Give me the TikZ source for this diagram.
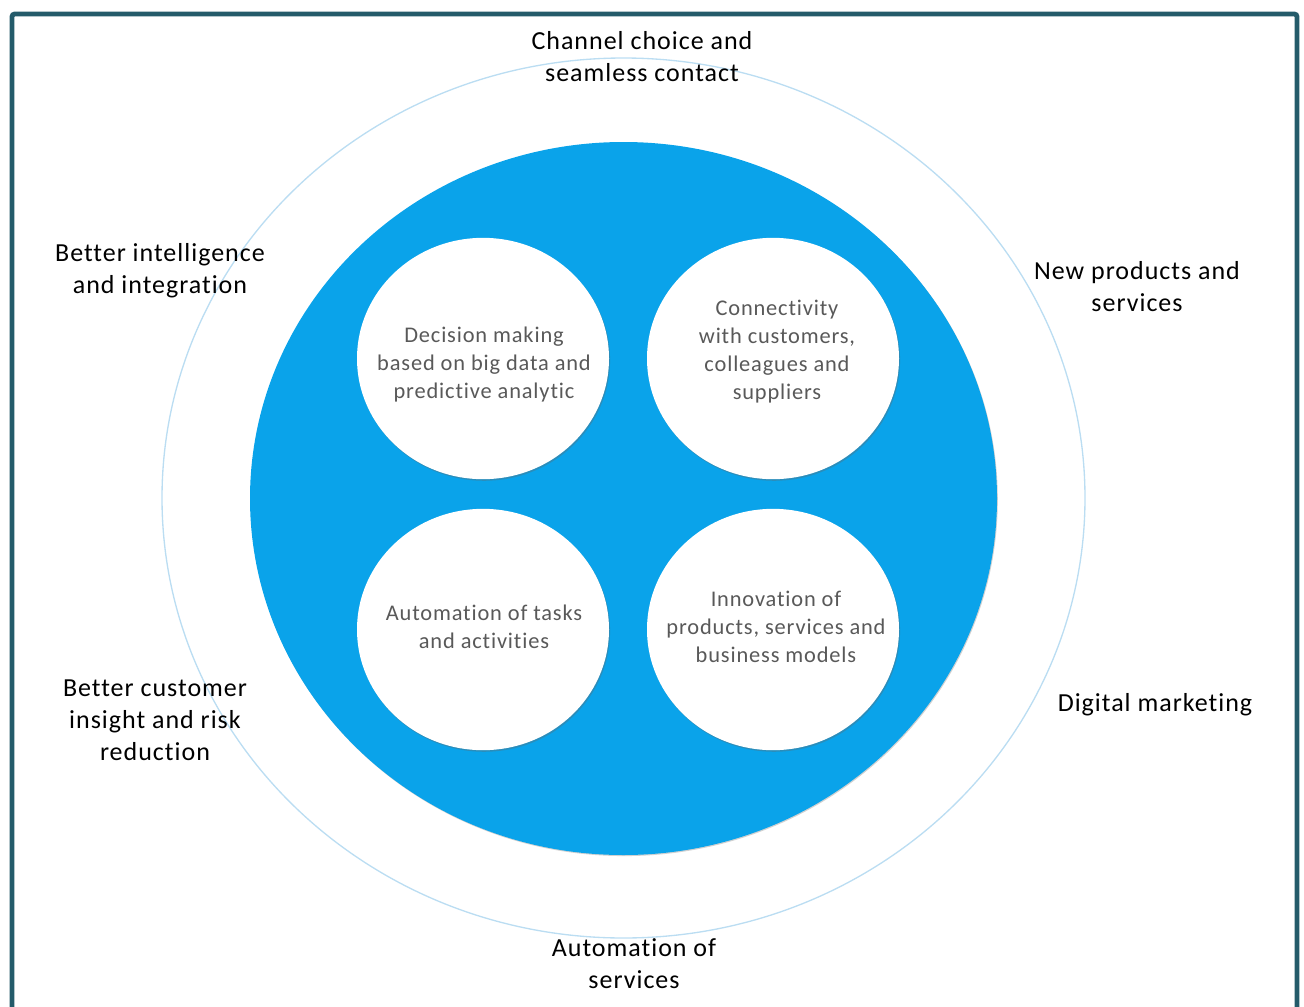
\documentclass[tikz,border=0pt]{standalone}
\usepackage{fontspec}
\setmainfont{Carlito}[Ligatures={NoCommon}, LetterSpace=3.8]
\usetikzlibrary{shadows,shapes.geometric}
\definecolor{frameteal}{HTML}{245B6A}
\definecolor{coreblue}{HTML}{0AA3EA}
\definecolor{ringblue}{HTML}{BBDDF2}
\definecolor{innertext}{HTML}{595959}
\tikzset{
  outerlabel/.style={align=center, font=\fontsize{19.5}{24}\selectfont, text=black, inner sep=0pt},
  bubble/.style={ellipse, fill=white, draw=none, minimum width=189pt, minimum height=181pt,
    drop shadow={shadow xshift=0.8pt, shadow yshift=-1.2pt, opacity=0.35, fill=black!60}},
  bubbletext/.style={align=center, font=\fontsize{16.8}{21}\selectfont, text=innertext, inner sep=0pt},
}
\begin{document}
\begin{tikzpicture}[x=0.75pt,y=-0.75pt]
  \useasboundingbox (0,0) rectangle (1304,1007);
  \clip (0,0) rectangle (1304,1007);
  % frame, open at the bottom edge of the page
  \draw[frameteal, line width=3.6pt, rounded corners=2pt] (12,1030) -- (12,14) -- (1297,14) -- (1297,1030);
  % outer ring
  \draw[ringblue, line width=1pt] (623.5,498) ellipse [x radius=461.5, y radius=440];
  % core disc
  \fill[coreblue, drop shadow={shadow xshift=0.6pt, shadow yshift=-0.8pt, opacity=0.3, fill=black!60}]
    (623.5,498.5) ellipse [x radius=373.5, y radius=356.5];
  % four bubbles
  \node[bubble] (tl) at (483,358.5) {};
  \node[bubble] (tr) at (773,358.5) {};
  \node[bubble] (bl) at (483,629.5) {};
  \node[bubble] (br) at (773,629.5) {};
  \node[bubbletext] at (484,365) {Decision making\\based on big data and\\predictive analytic};
  \node[bubbletext] at (777,352) {Connectivity\\with customers,\\colleagues and\\suppliers};
  \node[bubbletext] at (484,627) {Automation of tasks\\and activities};
  \node[bubbletext] at (776,627) {Innovation of\\products, services and\\business models};
  % outer labels
  \node[outerlabel] (top) at (642,56.5) {Channel choice and\\seamless contact};
  \node[outerlabel] (lu) at (160,271) {Better intelligence\\and integration};
  \node[outerlabel] (ru) at (1137,287) {New products and\\services};
  \node[outerlabel] (ll) at (155,720) {Better customer\\insight and risk\\reduction};
  \node[outerlabel] (rl) at (1155,705) {Digital marketing};
  \node[outerlabel] (bot) at (634,964) {Automation of\\services};
\end{tikzpicture}
\end{document}
